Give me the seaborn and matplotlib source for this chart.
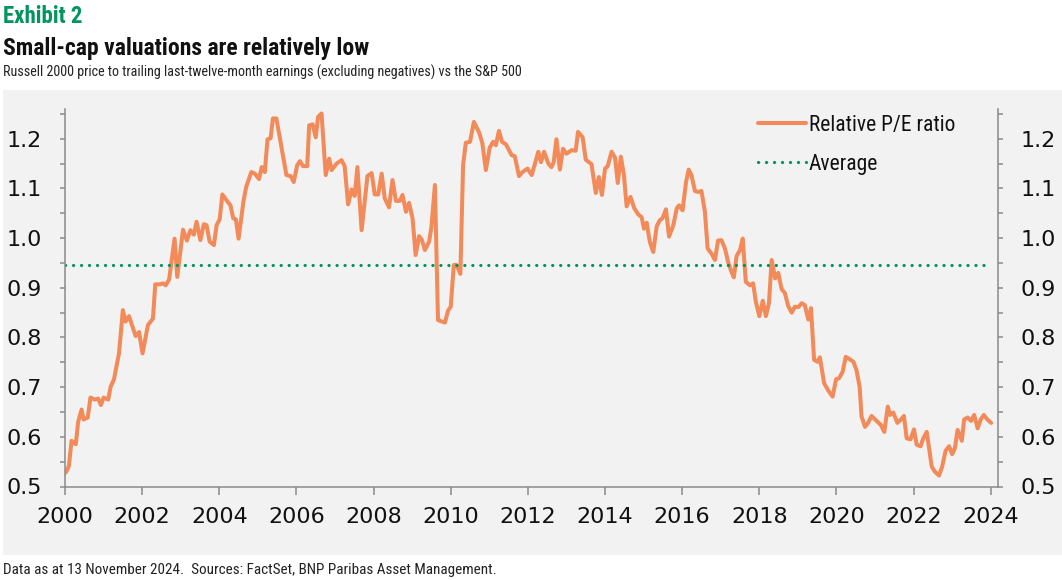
import matplotlib
matplotlib.use("Agg")
import matplotlib.pyplot as plt
from matplotlib import font_manager
from matplotlib.patches import Rectangle
from matplotlib.ticker import FixedLocator
import seaborn as sns
import pandas as pd

# ---------------- data ----------------
dates = [
    2000.02, 2000.10, 2000.17, 2000.28, 2000.34, 2000.43, 2000.48, 2000.59, 2000.66, 2000.77,
    2000.86, 2000.93, 2001.00, 2001.12, 2001.18, 2001.27, 2001.40, 2001.50, 2001.57, 2001.66,
    2001.83, 2001.92, 2002.01, 2002.15, 2002.28, 2002.34, 2002.46, 2002.54, 2002.61, 2002.70,
    2002.84, 2002.91, 2003.06, 2003.16, 2003.25, 2003.34, 2003.41, 2003.51, 2003.60, 2003.67,
    2003.75, 2003.86, 2003.93, 2004.01, 2004.08, 2004.19, 2004.29, 2004.36, 2004.43, 2004.50,
    2004.63, 2004.70, 2004.83, 2004.92, 2005.03, 2005.10, 2005.18, 2005.25, 2005.33, 2005.39,
    2005.48, 2005.61, 2005.74, 2005.85, 2005.93, 2006.02, 2006.09, 2006.17, 2006.28, 2006.33,
    2006.42, 2006.50, 2006.56, 2006.65, 2006.76, 2006.85, 2006.91, 2007.04, 2007.17, 2007.25,
    2007.34, 2007.43, 2007.51, 2007.58, 2007.69, 2007.84, 2007.95, 2008.03, 2008.12, 2008.21,
    2008.29, 2008.40, 2008.49, 2008.58, 2008.68, 2008.75, 2008.84, 2008.92, 2009.01, 2009.09,
    2009.18, 2009.25, 2009.33, 2009.44, 2009.50, 2009.59, 2009.67, 2009.85, 2009.93, 2010.00,
    2010.08, 2010.15, 2010.25, 2010.32, 2010.39, 2010.50, 2010.60, 2010.74, 2010.82, 2010.91,
    2011.01, 2011.10, 2011.17, 2011.25, 2011.33, 2011.43, 2011.58, 2011.66, 2011.77, 2011.86,
    2011.99, 2012.10, 2012.27, 2012.34, 2012.42, 2012.53, 2012.61, 2012.67, 2012.74, 2012.83,
    2012.91, 2013.00, 2013.13, 2013.24, 2013.30, 2013.42, 2013.50, 2013.65, 2013.76, 2013.84,
    2013.92, 2014.00, 2014.07, 2014.17, 2014.26, 2014.33, 2014.41, 2014.49, 2014.56, 2014.66,
    2014.76, 2014.86, 2014.95, 2015.01, 2015.08, 2015.16, 2015.25, 2015.34, 2015.42, 2015.49,
    2015.58, 2015.66, 2015.77, 2015.86, 2015.92, 2016.01, 2016.10, 2016.17, 2016.24, 2016.33,
    2016.42, 2016.50, 2016.59, 2016.66, 2016.76, 2016.85, 2016.93, 2017.02, 2017.11, 2017.19,
    2017.28, 2017.34, 2017.41, 2017.50, 2017.57, 2017.65, 2017.76, 2017.84, 2017.91, 2018.00,
    2018.09, 2018.17, 2018.25, 2018.32, 2018.41, 2018.49, 2018.58, 2018.66, 2018.75, 2018.84,
    2018.92, 2019.01, 2019.10, 2019.18, 2019.27, 2019.34, 2019.42, 2019.51, 2019.57, 2019.68,
    2019.79, 2019.90, 2019.99, 2020.07, 2020.16, 2020.24, 2020.35, 2020.44, 2020.52, 2020.60,
    2020.65, 2020.74, 2020.82, 2020.91, 2021.04, 2021.15, 2021.24, 2021.33, 2021.39, 2021.47,
    2021.58, 2021.66, 2021.75, 2021.82, 2021.92, 2022.01, 2022.08, 2022.18, 2022.25, 2022.34,
    2022.41, 2022.47, 2022.55, 2022.66, 2022.74, 2022.83, 2022.92, 2023.00, 2023.07, 2023.14,
    2023.25, 2023.31, 2023.40, 2023.49, 2023.57, 2023.66, 2023.74, 2023.82, 2023.91, 2024.01,
]
relative_pe = [
    0.528, 0.541, 0.592, 0.585, 0.630, 0.655, 0.635, 0.639, 0.679, 0.675,
    0.677, 0.664, 0.679, 0.675, 0.700, 0.716, 0.768, 0.855, 0.832, 0.843,
    0.803, 0.811, 0.768, 0.825, 0.838, 0.907, 0.907, 0.909, 0.905, 0.917,
    0.999, 0.922, 1.017, 0.995, 1.016, 1.007, 1.033, 0.996, 1.028, 1.026,
    0.993, 0.986, 1.026, 1.038, 1.088, 1.076, 1.066, 1.040, 1.038, 0.999,
    1.076, 1.104, 1.133, 1.130, 1.119, 1.143, 1.133, 1.199, 1.201, 1.241,
    1.241, 1.184, 1.127, 1.125, 1.113, 1.147, 1.155, 1.145, 1.145, 1.227,
    1.229, 1.203, 1.244, 1.251, 1.127, 1.160, 1.137, 1.150, 1.157, 1.145,
    1.068, 1.098, 1.085, 1.143, 1.016, 1.125, 1.131, 1.088, 1.088, 1.130,
    1.080, 1.062, 1.117, 1.075, 1.075, 1.087, 1.053, 1.071, 1.040, 0.966,
    1.004, 0.997, 0.976, 0.993, 1.023, 1.107, 0.835, 0.830, 0.854, 0.862,
    0.946, 0.946, 0.928, 1.147, 1.192, 1.194, 1.234, 1.212, 1.191, 1.137,
    1.182, 1.194, 1.187, 1.216, 1.194, 1.189, 1.167, 1.165, 1.125, 1.133,
    1.140, 1.127, 1.174, 1.153, 1.174, 1.150, 1.143, 1.153, 1.199, 1.138,
    1.180, 1.170, 1.177, 1.176, 1.214, 1.203, 1.158, 1.149, 1.091, 1.123,
    1.087, 1.140, 1.145, 1.174, 1.162, 1.111, 1.164, 1.127, 1.064, 1.083,
    1.060, 1.048, 1.042, 1.019, 1.031, 0.993, 0.972, 1.024, 1.036, 1.040,
    1.058, 1.003, 1.026, 1.060, 1.066, 1.056, 1.113, 1.138, 1.127, 1.095,
    1.093, 1.095, 1.053, 0.979, 0.969, 0.956, 0.995, 0.996, 0.979, 0.952,
    0.932, 0.921, 0.964, 0.976, 0.999, 0.912, 0.905, 0.909, 0.872, 0.843,
    0.874, 0.843, 0.869, 0.956, 0.919, 0.930, 0.897, 0.890, 0.863, 0.850,
    0.862, 0.861, 0.869, 0.865, 0.836, 0.859, 0.755, 0.751, 0.760, 0.708,
    0.693, 0.681, 0.716, 0.718, 0.731, 0.761, 0.756, 0.751, 0.734, 0.701,
    0.641, 0.620, 0.628, 0.642, 0.632, 0.624, 0.610, 0.661, 0.644, 0.649,
    0.628, 0.634, 0.642, 0.597, 0.595, 0.615, 0.584, 0.581, 0.597, 0.610,
    0.572, 0.540, 0.530, 0.522, 0.540, 0.572, 0.581, 0.565, 0.577, 0.614,
    0.592, 0.635, 0.639, 0.632, 0.644, 0.617, 0.635, 0.644, 0.635, 0.628,
]
average_value = 0.946
average_span = [2000.0, 2024.0]
year_ticks = list(range(2000, 2025, 2))
y_ticks = [0.5, 0.6, 0.7, 0.8, 0.9, 1.0, 1.1, 1.2]
y_minor_ticks = [0.55, 0.65, 0.75, 0.85, 0.95, 1.05, 1.15, 1.25]
y_tick_labels = ["0.5", "0.6", "0.7", "0.8", "0.9", "1.0", "1.1", "1.2"]

series_label = "Relative P/E ratio"
average_label = "Average"
exhibit_text = "Exhibit 2"
title_text = "Small-cap valuations are relatively low"
subtitle_text = "Russell 2000 price to trailing last-twelve-month earnings (excluding negatives) vs the S&P 500"
footnote_text = "Data as at 13 November 2024.  Sources: FactSet, BNP Paribas Asset Management."

# ---------------- style ----------------
ORANGE = "#F38A5A"
GREEN = "#00955E"
PANEL = "#F2F2F2"
SPINE = "#8A8A8A"

sns.set_style("white")


def pick(names):
    for n in names:
        try:
            font_manager.findfont(font_manager.FontProperties(family=n), fallback_to_default=False)
            return n
        except Exception:
            continue
    return "DejaVu Sans"


NARROW = pick(["Liberation Sans Narrow", "Roboto Condensed", "DejaVu Sans"])
plt.rcParams["font.family"] = ["DejaVu Sans"]

W, H = 1062, 580
fig = plt.figure(figsize=(W / 100, H / 100), dpi=100, facecolor="white")
fig.patches.append(Rectangle((3 / W, 1 - 555 / H), 1059 / W, 465 / H,
                             transform=fig.transFigure, facecolor=PANEL,
                             edgecolor="none", zorder=-10))

ax = fig.add_axes([65 / W, 1 - 486.5 / H, (997.7 - 65) / W, (486.5 - 109) / H])
ax.set_facecolor(PANEL)

df = pd.DataFrame({"date": dates, "value": relative_pe})
sns.lineplot(data=df, x="date", y="value", ax=ax, color=ORANGE, lw=2.9,
             label=series_label, solid_joinstyle="round", solid_capstyle="round")
avg_df = pd.DataFrame({"date": average_span, "value": [average_value] * 2})
sns.lineplot(data=avg_df, x="date", y="value", ax=ax, color=GREEN, lw=2.3,
             label=average_label, linestyle=(0, (0.05, 2.45)),
             dash_capstyle="round")

ax.set_xlim(2000, 2024.18)
ax.set_ylim(0.5, 1.26)
ax.set_xlabel("")
ax.set_ylabel("")

for s in ["left", "bottom", "right"]:
    ax.spines[s].set_visible(True)
    ax.spines[s].set_color(SPINE)
    ax.spines[s].set_linewidth(1.1)
ax.spines["top"].set_visible(False)

ax.xaxis.set_major_locator(FixedLocator(year_ticks))
ax.set_xticklabels([str(y) for y in year_ticks])
ax.yaxis.set_major_locator(FixedLocator(y_ticks))
ax.set_yticklabels(y_tick_labels)
ax.yaxis.set_minor_locator(FixedLocator(y_minor_ticks))

ax.tick_params(axis="x", which="major", direction="out", length=5.8, width=1.1,
               color=SPINE, labelsize=16, labelcolor="#111111", pad=9, bottom=True)
ax.tick_params(axis="y", which="both", direction="out", length=3.4, width=1.1,
               color=SPINE, left=True, right=True, labelleft=True, labelright=True,
               labelsize=16, labelcolor="#111111", pad=13)
ax.tick_params(axis="y", which="minor", labelleft=False, labelright=False)

leg = ax.legend(loc="upper left", bbox_to_anchor=(0.7425, 0.985), frameon=False,
                prop={"family": NARROW, "size": 15.5}, handlelength=2.25,
                handletextpad=0.12, labelspacing=0.85, borderpad=0, borderaxespad=0)
for t in leg.get_texts():
    t.set_color("#111111")

fig.text(3 / W, 1 - 23 / H, exhibit_text, color=GREEN, fontsize=16.5, fontweight="bold",
         family=NARROW, va="baseline", ha="left")
fig.text(3 / W, 1 - 55 / H, title_text, color="#111111", fontsize=17, fontweight="bold",
         family=NARROW, va="baseline", ha="left")
fig.text(3 / W, 1 - 77 / H, subtitle_text, color="#222222", fontsize=10.2,
         family=NARROW, va="baseline", ha="left")
fig.text(3 / W, 1 - 574 / H, footnote_text, color="#222222", fontsize=10.9,
         family=NARROW, va="baseline", ha="left")

fig.savefig("out.png", dpi=100, facecolor="white")
